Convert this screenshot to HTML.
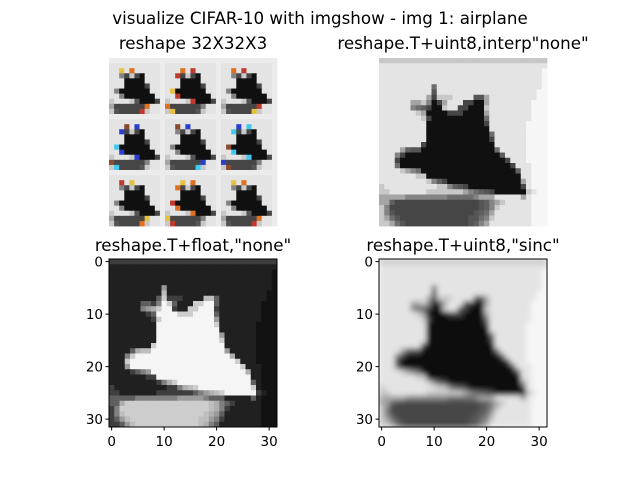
<!DOCTYPE html>
<html><head><meta charset="utf-8"><style>
html,body{margin:0;padding:0;background:#fff;}
svg text{font-family:"DejaVu Sans","Liberation Sans",sans-serif;fill:#000;}
</style></head><body>
<svg id="fig" width="640" height="480" viewBox="0 0 640 480">
<defs>
<filter id="blur" x="0" y="0" width="1" height="1"><feGaussianBlur stdDeviation="2.6" edgeMode="duplicate"/></filter>
<clipPath id="clipBR"><rect x="379" y="259" width="168" height="168"/></clipPath>
</defs>
<text x="320" y="24" text-anchor="middle" font-size="16.7">visualize CIFAR-10 with imgshow - img 1: airplane</text>
<text x="193" y="49" text-anchor="middle" font-size="16.7">reshape 32X32X3</text>
<text x="463" y="49" text-anchor="middle" font-size="16.7">reshape.T+uint8,interp"none"</text>
<text x="193" y="251" text-anchor="middle" font-size="16.7">reshape.T+float,"none"</text>
<text x="463" y="251" text-anchor="middle" font-size="16.7">reshape.T+uint8,"sinc"</text>
<g id="gTL"></g>
<g id="gTR"></g>
<g id="gBL"></g>
<g clip-path="url(#clipBR)"><g id="gBR" filter="url(#blur)"></g></g>
<g id="axes"></g>
</svg>
<script>
const rows = [
"22222222222222222222222222222222",
"11111111111111111111111111111111",
"11111111111111111111111111111110",
"11111111111111111111111111111110",
"11111111111111111111111111111110",
"11111111115111111111111111111110",
"11111111117111111111111111111100",
"11111111138222111177311111111100",
"11111133249831118899311111111000",
"11111145689921188999211111111000",
"11111112399998889999311111111000",
"11111111289999999999511111111000",
"11111111199999999999811111110000",
"11111111199999999999911111110000",
"11111111199999999999951111110000",
"11111111199999999999981111110000",
"11111111899999999999991111110000",
"11113677999999999999995111110000",
"11148999999999999999999611110000",
"11189999999999999999999981110000",
"11159999999999999999999998111000",
"11112345999999999999999999611000",
"11111112299999999999999999911000",
"11111111124689999999999999931000",
"21111111111224678999999999981000",
"22111111122222223456789999992100",
"33333444444445555543331111131000",
"33688888888888888887643211111000",
"24888888888888888887642111111000",
"24788888888888888876531111111000",
"23578888888888888775421111111000",
"22357888888888888764311111111000"
];
const tickValues = [0, 10, 20, 30];
const floatLut = [18,32,62,95,128,155,175,190,205,245];
const invLut = [246,228,200,165,132,110,95,85,70,16];
const tileColors = ["#c0392b","#2a3fd0","#e8c040","#40c8f0","#e07020","#8a4a30"];
const NS = "http://www.w3.org/2000/svg";
function lvl(r,c){return +rows[r][c];}
function mk(tag, attrs, parent){const e=document.createElementNS(NS,tag);for(const k in attrs)e.setAttribute(k,attrs[k]);parent.appendChild(e);return e;}
function g2(v){v=Math.max(0,Math.min(255,Math.round(v)));return "rgb("+v+","+v+","+v+")";}
function drawImg(gid, x0, y0, colorFn){
  const g=document.getElementById(gid); const s=168/32;
  for(let r=0;r<32;r++)for(let c=0;c<32;c++){
    const px=mk("rect",{x:x0+c*s,y:y0+r*s,width:s+0.4,height:s+0.4,fill:colorFn(lvl(r,c))},g);
    
    
  }
}
drawImg("gTR",379,58,l=>g2(invLut[l]));
drawImg("gBL",109,259,l=>g2(floatLut[l]));
drawImg("gBR",379,259,l=>g2(invLut[l]));
(function(){
  const g=document.getElementById("gTL"); const n=11; const tile=168/3; const s=tile/n;
  for(let tr=0;tr<3;tr++)for(let tc=0;tc<3;tc++)for(let r=0;r<n;r++)for(let c=0;c<n;c++){
    const l=lvl(Math.min(31,r*3),Math.min(31,c*3));
    let fill=g2(invLut[l]);
    const edge=(l>=3&&l<=7)||(r===2&&c>1&&c<6);
    if(edge&&(r+c+tr+tc)%2===0) fill=tileColors[(r*3+c+tr*2+tc)%tileColors.length];
    if(c===n-1||r===0) fill="#ececec";
    const px=mk("rect",{x:109+tc*tile+c*s,y:58+tr*tile+r*s,width:s+0.4,height:s+0.4,fill:fill},g);
    
    
  }
})();
const ax=document.getElementById("axes");
function pos(v){return (v+0.5)*168/32;}
[109,379].forEach((x0,i)=>{
  const y0=259;
  const fr=mk("rect",{x:x0,y:y0,width:168,height:168,fill:"none",stroke:"#000","stroke-width":1},ax);
  
  
  tickValues.forEach(t=>{
    const yy=y0+pos(t), xx=x0+pos(t);
    mk("line",{x1:x0-3.5,y1:yy,x2:x0,y2:yy,stroke:"#000"},ax);
    const yl=mk("text",{x:x0-6,y:yy+5,"text-anchor":"end","font-size":"13.5"},ax); yl.textContent=t;
    
    
    mk("line",{x1:xx,y1:y0+168,x2:xx,y2:y0+171.5,stroke:"#000"},ax);
    const xl=mk("text",{x:xx,y:y0+187,"text-anchor":"middle","font-size":"13.5"},ax); xl.textContent=t;
    
    
  });
});
</script>
</body></html>
